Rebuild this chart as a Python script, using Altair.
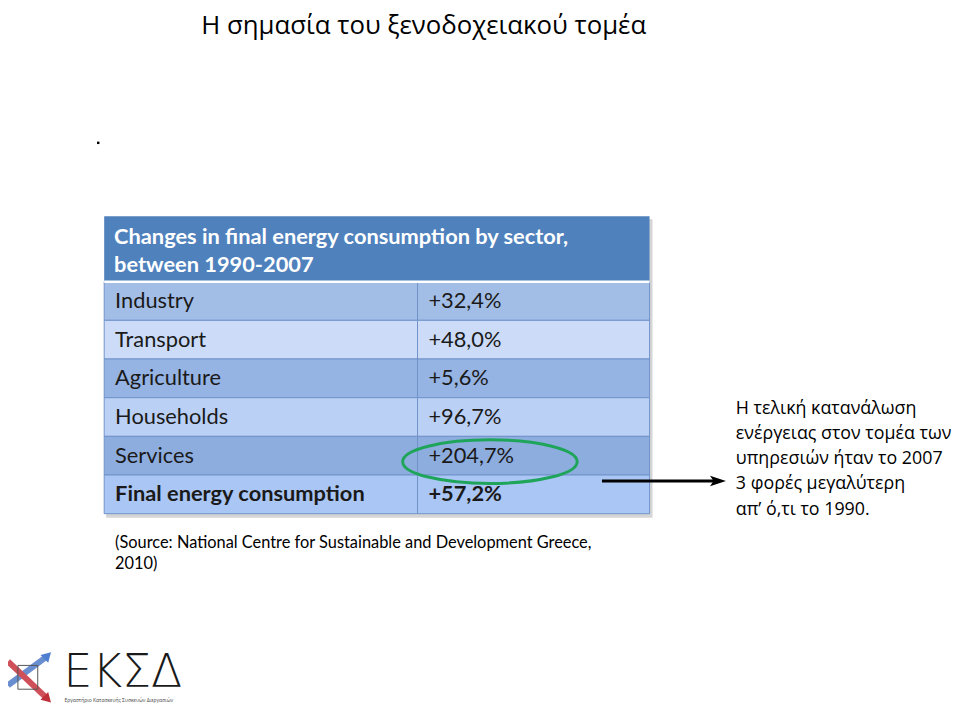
import altair as alt
import pandas as pd

# ---------------- data ----------------
title_text = "Η σημασία του ξενοδοχειακού τομέα"
header_lines = ["Changes in final energy consumption by sector,", "between 1990-2007"]
sectors = ["Industry", "Transport", "Agriculture", "Households", "Services", "Final energy consumption"]
changes = ["+32,4%", "+48,0%", "+5,6%", "+96,7%", "+204,7%", "+57,2%"]
source_lines = ["(Source: National Centre for Sustainable and Development Greece,", "2010)"]
note_lines = ["Η τελική κατανάλωση", "ενέργειας στον τομέα των", "υπηρεσιών ήταν το 2007",
              "3 φορές μεγαλύτερη", "απ\u2019 ό,τι το  1990."]
highlight_sector = "Services"
logo_text = "ΕΚΣΔ"
logo_caption = "Εργαστήριο Κατασκευής Συσκευών Διεργασιών"

# ---------------- layout (page pixel frame) ----------------
W, H = 960, 712
OFF = 8
TX0, TXM, TX1 = 105, 421, 655
HEAD_TOP, HEAD_BOT = 215, 281
ROW_H = 39
FONT = "Lato"
GFONT = "Open Sans"
row_fill = ["#A3BEE6", "#CCDCF8", "#95B3E3", "#BBD0F5", "#8EADDF", "#AAC6F4"]

xs = alt.Scale(domain=[OFF, W], range=[0, W - OFF])
ys = alt.Scale(domain=[H, OFF], range=[H - OFF, 0])
X = lambda f: alt.X(f, type="quantitative", scale=xs, axis=None)
Y = lambda f: alt.Y(f, type="quantitative", scale=ys, axis=None)

# cells
cells = []
for i, s in enumerate(sectors):
    top = HEAD_BOT + i * ROW_H
    cells.append(dict(x=TX0, x2=TXM, y=top, y2=top + ROW_H, c=row_fill[i]))
    cells.append(dict(x=TXM, x2=TX1, y=top, y2=top + ROW_H, c=row_fill[i]))
cells_df = pd.DataFrame(cells)
bottom = HEAD_BOT + len(sectors) * ROW_H

shadow = alt.Chart(pd.DataFrame([dict(x=TX0 + 2, x2=TX1 + 3, y=HEAD_TOP + 3, y2=bottom + 4)])).mark_rect(
    color="#888888", opacity=0.35).encode(x=X("x"), x2="x2", y=Y("y"), y2="y2")

head = alt.Chart(pd.DataFrame([dict(x=TX0, x2=TX1, y=HEAD_TOP, y2=HEAD_BOT)])).mark_rect(
    color="#4F81BD").encode(x=X("x"), x2="x2", y=Y("y"), y2="y2")

cell_layer = alt.Chart(cells_df).mark_rect(stroke="#6F93C9", strokeWidth=1).encode(
    x=X("x"), x2="x2", y=Y("y"), y2="y2", fill=alt.Fill("c:N", scale=None))

white_line = alt.Chart(pd.DataFrame([dict(x=TX0, x2=TX1, y=HEAD_BOT)])).mark_rule(
    color="white", strokeWidth=2.5).encode(x=X("x"), x2="x2", y=Y("y"))

head_df = pd.DataFrame(dict(t=header_lines, x=[115] * 2, y=[236, 264]))
head_text = alt.Chart(head_df).mark_text(
    align="left", baseline="middle", font=FONT, fontSize=22, fontWeight="bold", color="white").encode(
    x=X("x"), y=Y("y"), text="t:N")

rows_df = pd.DataFrame(dict(
    s=sectors, v=changes,
    y=[HEAD_BOT + ROW_H * (i + 0.5) for i in range(len(sectors))],
    w=["bold" if i == len(sectors) - 1 else "normal" for i in range(len(sectors))],
    xl=[116] * len(sectors), xv=[432] * len(sectors)))
lab_norm = alt.Chart(rows_df[rows_df.w == "normal"]).mark_text(
    align="left", baseline="middle", font=FONT, fontSize=22, color="#1a1a1a")
lab_bold = alt.Chart(rows_df[rows_df.w == "bold"]).mark_text(
    align="left", baseline="middle", font=FONT, fontSize=22, fontWeight="bold", color="#1a1a1a")
row_labels = (lab_norm.encode(x=X("xl"), y=Y("y"), text="s:N")
              + lab_norm.encode(x=X("xv"), y=Y("y"), text="v:N")
              + lab_bold.encode(x=X("xl"), y=Y("y"), text="s:N")
              + lab_bold.encode(x=X("xv"), y=Y("y"), text="v:N"))

# green ellipse around the highlighted value
hi = sectors.index(highlight_sector)
ell_df = pd.DataFrame([dict(x=494, y=HEAD_BOT + ROW_H * (hi + 0.5) + 6)])
ellipse = alt.Chart(ell_df).mark_point(
    shape="M -1 0 A 1 0.25 0 1 0 1 0 A 1 0.25 0 1 0 -1 0",
    size=176 * 176, filled=False, color="#1FA55A", strokeWidth=3, opacity=1).encode(x=X("x"), y=Y("y"))

# arrow
arrow_df = pd.DataFrame([dict(x=607, x2=724, y=482)])
arrow_line = alt.Chart(arrow_df).mark_rule(color="black", strokeWidth=3).encode(x=X("x"), x2="x2", y=Y("y"))
head_df2 = pd.DataFrame([dict(x=724, y=482)])
arrow_head = alt.Chart(head_df2).mark_point(
    shape="M -1 -0.65 L 1 0 L -1 0.65 L -0.55 0 Z", size=260, filled=True, color="black", opacity=1).encode(
    x=X("x"), y=Y("y"))

# note text on the right
note_df = pd.DataFrame(dict(t=note_lines, x=[742] * 5, y=[409, 434.5, 460, 485.5, 511]))
note = alt.Chart(note_df).mark_text(
    align="left", baseline="middle", font=GFONT, fontSize=18, color="black").encode(
    x=X("x"), y=Y("y"), text="t:N")

# title
title_df = pd.DataFrame([dict(t=title_text, x=203, y=31)])
title = alt.Chart(title_df).mark_text(
    align="left", baseline="alphabetic", font=GFONT, fontSize=26, color="black").encode(
    x=X("x"), y=Y("y"), text="t:N")

dot = alt.Chart(pd.DataFrame([dict(x=99, y=141)])).mark_point(
    shape="square", size=6, filled=True, color="black", opacity=1).encode(x=X("x"), y=Y("y"))

# source text
src_df = pd.DataFrame(dict(t=source_lines, x=[116, 116], y=[545, 566]))
source = alt.Chart(src_df).mark_text(
    align="left", baseline="middle", font=FONT, fontSize=16.5, color="black").encode(
    x=X("x"), y=Y("y"), text="t:N")

# logo
logo_df = pd.DataFrame([dict(t=logo_text, x=64, y=676)])
logo = alt.Chart(logo_df).mark_text(
    align="left", baseline="middle", font="DejaVu Sans", fontSize=46, fontWeight=300, color="#1a1a1a").encode(
    x=X("x"), y=Y("y"), text="t:N")
cap_df = pd.DataFrame([dict(t=logo_caption, x=65, y=703)])
cap = alt.Chart(cap_df).mark_text(
    align="left", baseline="middle", font=GFONT, fontSize=5, color="#444444").encode(
    x=X("x"), y=Y("y"), text="t:N")
icon_lines = pd.DataFrame([
    dict(x=8, y=688, x2=46, y2=660, c="#6A8FD0", w=6),
    dict(x=8, y=664, x2=46, y2=700, c="#D0505A", w=6),
    dict(x=18, y=668, x2=38, y2=668, c="#555555", w=1),
    dict(x=18, y=692, x2=38, y2=692, c="#555555", w=1),
    dict(x=18, y=668, x2=18, y2=692, c="#555555", w=1),
    dict(x=38, y=668, x2=38, y2=692, c="#555555", w=1),
])
icon = alt.Chart(icon_lines).mark_rule().encode(
    x=X("x"), y=Y("y"), x2="x2", y2="y2",
    color=alt.Color("c:N", scale=None), strokeWidth=alt.StrokeWidth("w:Q", scale=None))
icon_heads = pd.DataFrame([dict(x=48, y=658, c="#4F7FD0", a=315), dict(x=48, y=702, c="#C0303A", a=45)])
icon_h = alt.Chart(icon_heads).mark_point(shape="triangle-right", size=120, filled=True, opacity=1).encode(
    x=X("x"), y=Y("y"), color=alt.Color("c:N", scale=None), angle=alt.Angle("a:Q", scale=None))

chart = alt.layer(
    shadow, head, cell_layer, white_line, head_text, row_labels, ellipse,
    arrow_line, arrow_head, note, title, dot, source, icon, icon_h, logo, cap
).properties(
    width=W - OFF, height=H - OFF, padding=0, autosize=alt.AutoSizeParams(type="none"),
    background="white"
).configure_view(stroke=None)

chart.save("out.html", embed_options={"renderer": "svg", "actions": False})
